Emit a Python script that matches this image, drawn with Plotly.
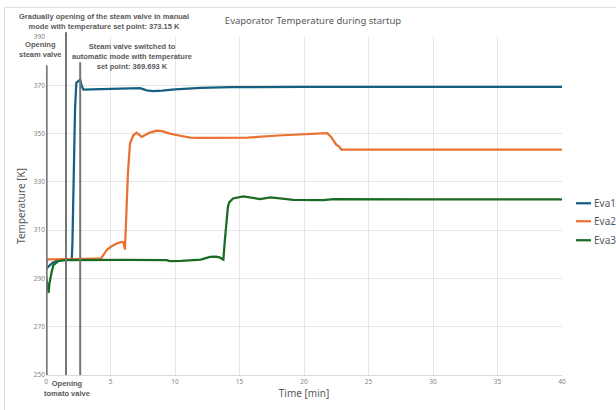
import plotly.graph_objects as go

# ---- data ----
series_names = ["Eva1", "Eva2", "Eva3"]
series_colors = ["#156082", "#E97132", "#196B24"]

eva1_t = [0, 0.1, 0.5, 0.9, 1.5, 2.0, 2.05, 2.15, 2.25, 2.35, 2.55, 2.65, 2.75, 2.9, 3.5, 5, 7.3, 7.8, 8.3, 9, 10, 12, 14.3, 20, 30, 40]
eva1_v = [293.5, 294.5, 296.4, 297.5, 297.8, 298.0, 305, 335, 360, 371, 372, 372.4, 370, 368.2, 368.3, 368.6, 368.8, 367.9, 367.6, 367.8, 368.3, 368.9, 369.2, 369.3, 369.3, 369.3]

eva2_t = [0, 0.08, 0.15, 1, 2, 3, 4.27, 4.5, 4.7, 5.0, 5.48, 5.87, 6.0, 6.12, 6.18, 6.25, 6.35, 6.51, 6.77, 7.03, 7.42, 8.0, 8.58, 9.0, 9.6, 10.5, 11.2, 12, 14.3, 15.6, 18, 21.8, 22.1, 22.5, 22.7, 22.9, 30, 40]
eva2_v = [293.5, 297.5, 297.9, 297.9, 298.0, 298.1, 298.3, 300, 301.7, 303, 304.5, 305.1, 305, 302, 312, 325.2, 333.4, 345.9, 349.3, 350.4, 348.6, 350.3, 351.2, 351, 350, 349, 348.3, 348.2, 348.3, 348.3, 349.2, 350.2, 348.6, 345.4, 344.7, 343.4, 343.4, 343.4]

eva3_t = [0, 0.1, 0.2, 0.27, 0.36, 0.45, 0.57, 0.75, 0.96, 1.5, 3, 6, 9.35, 9.6, 10.5, 11.2, 12, 12.7, 13.2, 13.5, 13.75, 13.85, 14.0, 14.1, 14.2, 14.5, 15.3, 16.0, 16.6, 17.4, 18.3, 19.2, 21.5, 22.3, 30, 40]
eva3_v = [291, 287, 284.0, 288, 291.3, 293, 295.5, 296.2, 297.2, 297.6, 297.7, 297.7, 297.6, 297.2, 297.3, 297.5, 297.8, 298.9, 299.0, 298.6, 297.8, 305, 314.1, 319.6, 321.5, 323.1, 324.0, 323.4, 322.9, 323.6, 323.0, 322.5, 322.4, 322.8, 322.7, 322.7]

event_times = [0.05, 1.55, 2.65]
event_tops = [378.3, 392.0, 379.5]

x_ticks = [0, 5, 10, 15, 20, 25, 30, 35, 40]
y_ticks = [250, 270, 290, 310, 330, 350, 370, 390]

title_text = "Evaporator Temperature during startup"
x_title = "Time [min]"
y_title = "Temperature [K]"

notes = [
    "Gradually opening of the steam valve in manual<br>mode with temperature set point: 373.15 K",
    "Opening<br>steam valve",
    "Steam valve switched to<br>automatic mode with temperature<br>set point: 369.693 K",
    "Opening<br>tomato valve",
]
note_x = [0.1124, -0.0097, 0.1667, 0.0407]
note_y = [1.046, 0.962, 0.9414, -0.039]

# ---- figure ----
YMIN, YMAX = 250, 390
FONT = "Noto Sans"
GRAY = "#595959"

fig = go.Figure()
for name, color, t, v in zip(series_names, series_colors,
                             [eva1_t, eva2_t, eva3_t], [eva1_v, eva2_v, eva3_v]):
    fig.add_trace(go.Scatter(x=t, y=v, mode="lines", name=name,
                             line=dict(color=color, width=2.25), showlegend=False))

shapes = []
# outer chart border
shapes.append(dict(type="rect", xref="paper", yref="paper",
                   x0=(4.5 - 46) / 516, x1=(640 - 46) / 516,
                   y0=(374.8 - 430) / 338.1, y1=(374.8 - 7) / 338.1,
                   line=dict(color="#d9d9d9", width=1), layer="below"))
# event lines
for t, top in zip(event_times, event_tops):
    shapes.append(dict(type="line", xref="x", yref="paper", x0=t, x1=t,
                       y0=0, y1=(top - YMIN) / (YMAX - YMIN),
                       line=dict(color="#767676", width=2)))
# custom legend samples
leg_y = [0.5081, 0.4549, 0.3987]
for color, ly in zip(series_colors, leg_y):
    shapes.append(dict(type="line", xref="paper", yref="paper",
                       x0=1.0271, x1=1.0562, y0=ly, y1=ly,
                       line=dict(color=color, width=2.25)))

annotations = []
for txt, nx, ny in zip(notes, note_x, note_y):
    annotations.append(dict(text="<b>" + txt + "</b>", x=nx, y=ny, xref="paper", yref="paper",
                            showarrow=False, xanchor="center", yanchor="middle",
                            align="center",
                            font=dict(family="Liberation Sans", size=7.5, color=GRAY)))
for name, ly in zip(series_names, leg_y):
    annotations.append(dict(text=name, x=1.058, y=ly, xref="paper", yref="paper",
                            showarrow=False, xanchor="left", yanchor="middle",
                            font=dict(family=FONT, size=10, color=GRAY)))

fig.update_layout(
    width=616, height=410,
    margin=dict(l=46, r=54, t=37, b=35),
    paper_bgcolor="white", plot_bgcolor="white",
    title=dict(text=title_text, x=313 / 616, xanchor="center", y=1 - 21 / 410,
               yanchor="middle", font=dict(family=FONT, size=9.5, color=GRAY)),
    xaxis=dict(range=[0, 40], tickvals=x_ticks, showgrid=True, gridcolor="#e6e6e6",
               gridwidth=1, zeroline=False, showline=True, linecolor="#d9d9d9",
               ticks="", tickfont=dict(family=FONT, size=6.5, color="#7f7f7f"),
               title=dict(text=x_title, standoff=4,
                          font=dict(family=FONT, size=10, color=GRAY))),
    yaxis=dict(range=[YMIN, YMAX], tickvals=y_ticks, showgrid=True, gridcolor="#e6e6e6",
               gridwidth=1, zeroline=False, showline=False, ticks="",
               tickfont=dict(family=FONT, size=6.5, color="#7f7f7f"),
               title=dict(text=y_title, standoff=6,
                          font=dict(family=FONT, size=10, color=GRAY))),
    shapes=shapes, annotations=annotations, showlegend=False,
)

fig.write_html("out.html")
